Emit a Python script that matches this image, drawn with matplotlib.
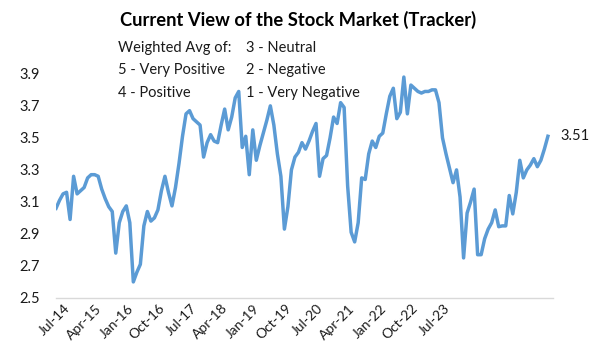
import matplotlib
matplotlib.use("Agg")
import matplotlib.pyplot as plt
import matplotlib.transforms as mtransforms

# weighted average sentiment, one value per survey period
tracker = [
    3.06, 3.11, 3.15, 3.16, 2.99, 3.26, 3.15, 3.17, 3.19, 3.25,
    3.27, 3.27, 3.26, 3.18, 3.12, 3.07, 3.04, 2.78, 2.97, 3.04,
    3.075, 2.97, 2.60, 2.66, 2.71, 2.95, 3.04, 2.98, 3.00, 3.05,
    3.17, 3.26, 3.16, 3.075, 3.19, 3.34, 3.51, 3.65, 3.67, 3.62,
    3.60, 3.58, 3.38, 3.47, 3.52, 3.48, 3.47, 3.58, 3.68, 3.55,
    3.63, 3.75, 3.79, 3.44, 3.51, 3.27, 3.55, 3.36, 3.45, 3.53,
    3.61, 3.70, 3.58, 3.40, 3.26, 2.93, 3.07, 3.30, 3.38, 3.41,
    3.47, 3.43, 3.48, 3.54, 3.59, 3.26, 3.37, 3.39, 3.50, 3.63,
    3.59, 3.72, 3.69, 3.20, 2.91, 2.85, 2.97, 3.25, 3.24, 3.40,
    3.48, 3.44, 3.51, 3.53, 3.65, 3.76, 3.81, 3.62, 3.66, 3.88,
    3.65, 3.83, 3.81, 3.79, 3.78, 3.79, 3.79, 3.80, 3.80, 3.72,
    3.50, 3.40, 3.31, 3.22, 3.30, 3.13, 2.75, 3.03, 3.10, 3.18,
    2.77, 2.77, 2.87, 2.93, 2.97, 3.05, 2.945, 2.95, 2.95, 3.14,
    3.025, 3.16, 3.36, 3.25, 3.30, 3.33, 3.37, 3.32, 3.36, 3.43,
    3.51,
]
tick_labels = ["Jul-14", "Apr-15", "Jan-16", "Oct-16", "Jul-17", "Apr-18", "Jan-19",
               "Oct-19", "Jul-20", "Apr-21", "Jan-22", "Oct-22", "Jul-23"]
y_ticks = [2.5, 2.7, 2.9, 3.1, 3.3, 3.5, 3.7, 3.9]
legend_left = ["Weighted Avg of:", "5 - Very Positive", "4 - Positive"]
legend_right = ["3 - Neutral", "2 - Negative", "1 - Very Negative"]

plt.rcParams['font.family'] = ['Lato', 'DejaVu Sans']
txt = '#1a1a1a'

fig = plt.figure(figsize=(6.13, 3.62), dpi=100)
ax = fig.add_axes([0.0914, 0.177, 0.811, 0.619])

x = list(range(len(tracker)))
ax.plot(x, tracker, color='#5B9BD5', lw=2.5, solid_joinstyle='round')
ax.annotate('{:.2f}'.format(tracker[-1]), (x[-1], tracker[-1]), xytext=(9, 0),
            textcoords='offset points', va='center', ha='left', fontsize=10.5, color=txt)

ax.set_xlim(0, 141.5)
ax.set_ylim(2.5, 3.9)
ax.set_yticks(y_ticks)
ax.set_yticklabels(['{:.1f}'.format(v) for v in y_ticks], fontsize=10.5, color=txt)
ax.set_xticks([9 * i for i in range(len(tick_labels))])
ax.set_xticklabels(tick_labels, rotation=45, ha='right', rotation_mode='anchor',
                   fontsize=10, color=txt)
ax.tick_params(length=0)
ax.tick_params(axis='y', pad=11.5)
ax.tick_params(axis='x', pad=5)
shift = mtransforms.ScaledTranslation(5.5 / 72, 2 / 72, fig.dpi_scale_trans)
for lab in ax.get_xticklabels():
    lab.set_transform(lab.get_transform() + shift)
for s in ['top', 'right', 'left']:
    ax.spines[s].set_visible(False)
ax.spines['bottom'].set_color('#d9d9d9')
ax.spines['bottom'].set_linewidth(1)

fig.text(0.487, 0.945, 'Current View of the Stock Market (Tracker)', ha='center', va='center',
         fontsize=13.2, fontweight='bold', color='black')
for i, (a, b) in enumerate(zip(legend_left, legend_right)):
    yy = 0.868 - i * 0.062
    fig.text(0.192, yy, a, ha='left', va='center', fontsize=10.5, color=txt)
    fig.text(0.401, yy, b, ha='left', va='center', fontsize=10.5, color=txt)

fig.savefig('out.png', dpi=100)
